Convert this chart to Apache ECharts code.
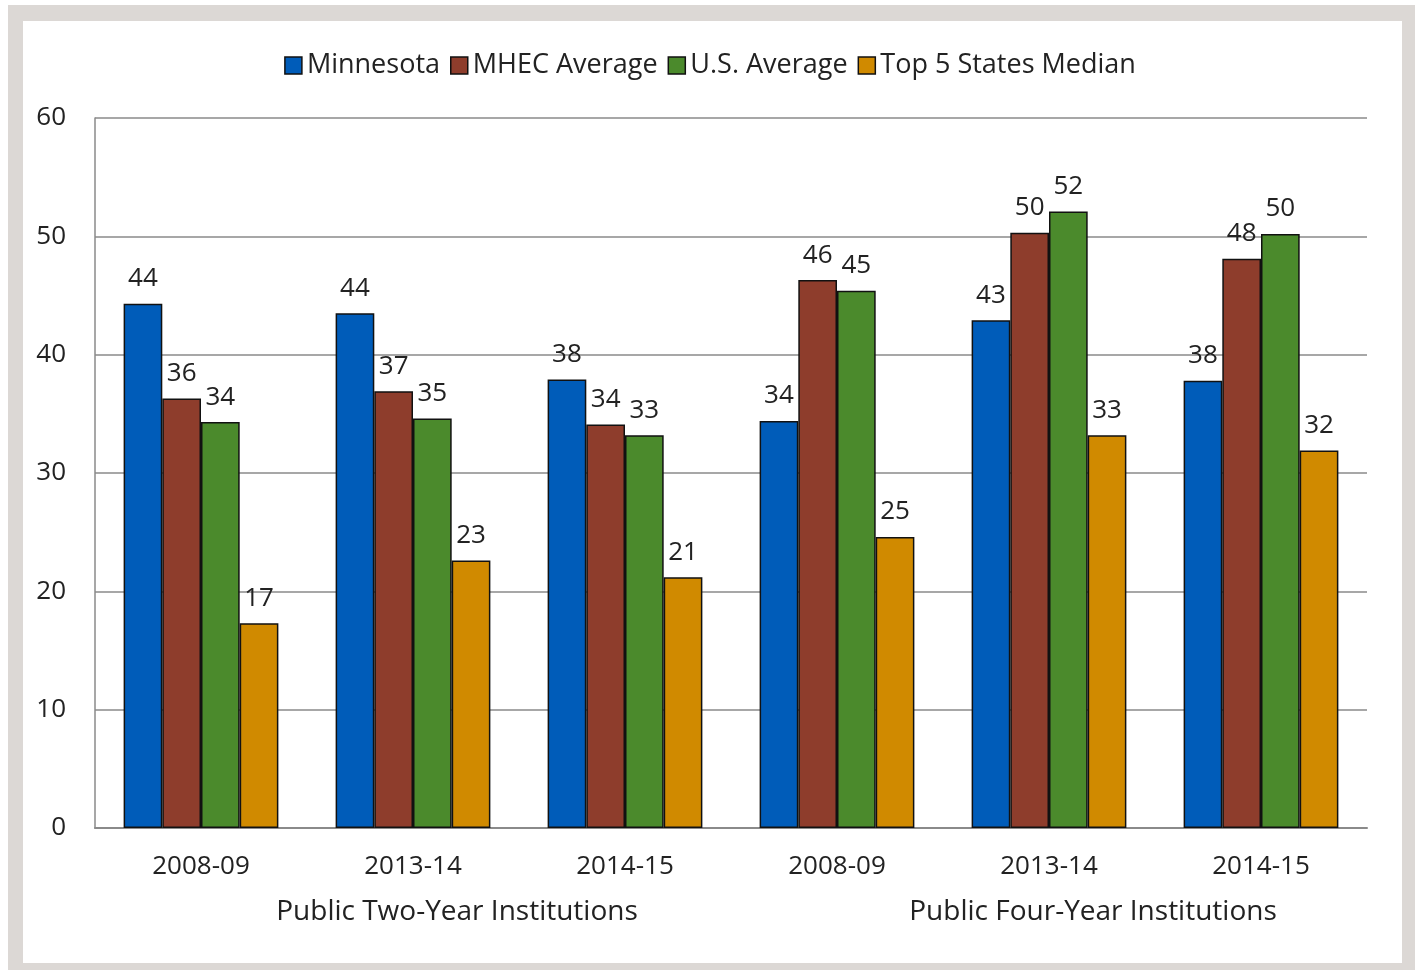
<!DOCTYPE html>
<html>
<head>
<meta charset="utf-8">
<script src="https://cdn.jsdelivr.net/npm/echarts@6/dist/echarts.min.js"></script>
<style>
  html, body { margin: 0; padding: 0; background: #fff; }
  #frame { position: absolute; left: 8px; top: 5px; width: 1407px; height: 965px; background: #dcd8d5; }
  #panel { position: absolute; left: 23px; top: 21px; width: 1379px; height: 942px; background: #fff; }
  #chart { position: absolute; left: 0; top: 0; width: 1420px; height: 970px; }
</style>
</head>
<body>
<div id="frame"></div>
<div id="panel"></div>
<div id="chart"></div>
<script>
var years = ['2008-09', '2013-14', '2014-15', '2008-09 ', '2013-14 ', '2014-15 '];
var groups = ['Public Two-Year Institutions', 'Public Four-Year Institutions'];
var minnesota = [44.3, 43.5, 37.9, 34.4, 42.9, 37.8];
var mhecAverage = [36.3, 36.9, 34.1, 46.3, 50.3, 48.1];
var usAverage = [34.3, 34.6, 33.2, 45.4, 52.1, 50.2];
var top5Median = [17.3, 22.6, 21.2, 24.6, 33.2, 31.9];

var seriesNames = ['Minnesota', 'MHEC Average', 'U.S. Average', 'Top 5 States Median'];
var seriesData = [minnesota, mhecAverage, usAverage, top5Median];
var colors = ['#005cb9', '#8e3d2c', '#4b8a2c', '#d08a00'];

var font = '"Open Sans", sans-serif';

var option = {
    animation: false,
    color: colors,
    textStyle: { fontFamily: font },
    legend: {
        top: 47,
        left: 'center',
        itemWidth: 17,
        itemHeight: 17,
        itemGap: 10,
        icon: 'rect',
        textStyle: { fontSize: 27, color: '#222' },
        itemStyle: { borderColor: '#111', borderWidth: 1.5 },
        data: seriesNames
    },
    grid: { left: 95, right: 53, top: 118, bottom: 142 },
    xAxis: [{
        type: 'category',
        data: years,
        axisLine: { lineStyle: { color: '#8a8a8a', width: 2 } },
        axisTick: { show: false },
        axisLabel: { fontSize: 26, color: '#222', margin: 26, fontFamily: font,
            formatter: function (v) { return v.trim(); } }
    }, {
        type: 'category',
        data: groups,
        position: 'bottom',
        offset: 46,
        axisLine: { show: false },
        axisTick: { show: false },
        axisLabel: { fontSize: 28, color: '#222', margin: 24, fontFamily: font, padding: [0, 0, 0, 88] }
    }],
    yAxis: {
        type: 'value',
        min: 0,
        max: 60,
        interval: 10,
        axisLine: { show: true, lineStyle: { color: '#8a8a8a', width: 1.5 } },
        axisTick: { show: false },
        axisLabel: { fontSize: 26, color: '#222', margin: 29, fontFamily: font },
        splitLine: { lineStyle: { color: '#8a8a8a', width: 1.5 } }
    },
    series: seriesData.map(function (d, i) {
        return {
            name: seriesNames[i],
            type: 'bar',
            xAxisIndex: 0,
            data: d,
            barGap: '0%',
            barCategoryGap: '27%',
            itemStyle: { borderColor: '#111', borderWidth: 1.5 },
            label: {
                show: true,
                position: 'top',
                distance: 12,
                fontSize: 26,
                color: '#222',
                fontFamily: font,
                formatter: function (p) { return Math.round(p.value); }
            }
        };
    })
};

var myChart = echarts.init(document.getElementById('chart'));
myChart.setOption(option);
</script>
</body>
</html>
